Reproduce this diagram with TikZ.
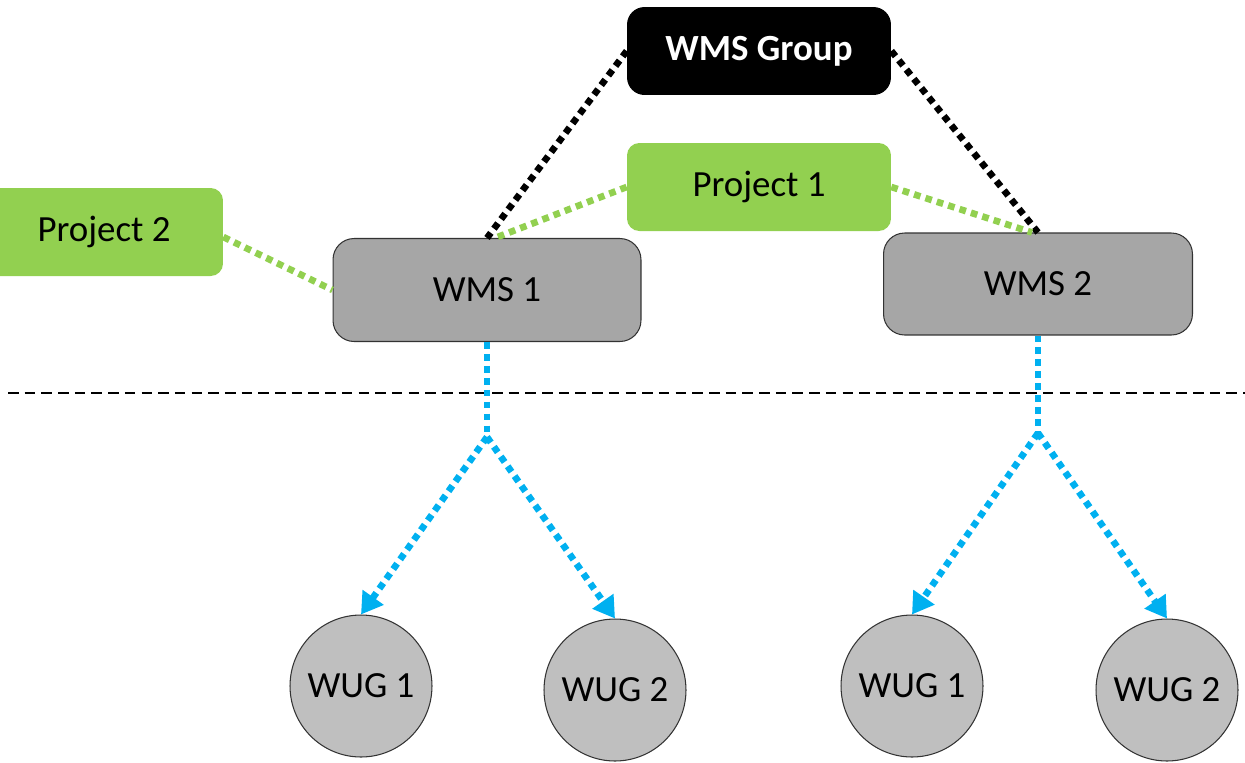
\documentclass[tikz,border=0pt]{standalone}
\usepackage{fontspec}
\setmainfont{Carlito}
\usepackage{tikz}
\usetikzlibrary{arrows.meta}
\definecolor{projgreen}{RGB}{146, 208, 80}
\definecolor{wmsgray}{RGB}{166, 166, 166}
\definecolor{wuggray}{RGB}{191, 191, 191}
\definecolor{linkblue}{RGB}{0, 176, 240}

\begin{document}
\begin{tikzpicture}[x=0.02cm, y=-0.02cm,
  wmsbox/.style={draw=black!80, fill=wmsgray, rounded corners=12pt, line width=0.6pt,
    inner sep=0pt, font=\fontsize{21}{24}\selectfont},
  projbox/.style={fill=projgreen, rounded corners=7pt, inner sep=0pt,
    minimum width=5.28cm, minimum height=1.76cm, font=\fontsize{21}{24}\selectfont},
  wugnode/.style={circle, draw=black!80, fill=wuggray, line width=0.6pt,
    minimum size=2.84cm, inner sep=0pt, font=\fontsize{21}{24}\selectfont},
  grouplink/.style={line width=3.8pt, dash pattern=on 3.8pt off 3pt},
  wuglink/.style={line width=3.8pt, dash pattern=on 3.8pt off 3pt, color=linkblue,
    -{Triangle[length=12pt, width=14pt]}}]
  \useasboundingbox (0, 0) rectangle (1245, 762);

  \node [projbox, minimum width=4.76cm] (proj2) at (104, 232) {Project 2};
  \node [projbox] (proj1) at (759, 187) {Project 1};
  \node [projbox, fill=black, text=white, font=\fontsize{21}{24}\selectfont\bfseries,
    rounded corners=10pt] (group) at (759, 51) {WMS Group};

  \node [wmsbox, minimum width=6.16cm, minimum height=2.06cm] (wms1) at (487, 290) {WMS 1};
  \node [wmsbox, minimum width=6.18cm, minimum height=2.04cm] (wms2) at (1038, 284) {WMS 2};

  \node [wugnode] (wug11) at (361, 686) {WUG 1};
  \node [wugnode] (wug12) at (615, 690) {WUG 2};
  \node [wugnode] (wug21) at (912, 686) {WUG 1};
  \node [wugnode] (wug22) at (1167, 690) {WUG 2};

  % boundary
  \draw [line width=1.5pt, dash pattern=on 6pt off 3.5pt] (8, 393) -- (1245, 393);

  \draw [grouplink, color=black] (group.west) -- (wms1.north);
  \draw [grouplink, color=black] (group.east) -- (wms2.north);
  \draw [grouplink, color=projgreen] (proj1.west) -- ([xshift=0.16cm]wms1.north);
  \draw [grouplink, color=projgreen] (proj1.east) -- ([xshift=-0.12cm]wms2.north);
  \draw [grouplink, color=projgreen] ([yshift=-0.1cm]proj2.east) -- (wms1.west);

  \coordinate (split1) at (487, 437);
  \coordinate (split2) at (1038, 433);
  \draw [grouplink, color=linkblue] (wms1.south) -- (split1);
  \draw [grouplink, color=linkblue] (wms2.south) -- (split2);
  \draw [wuglink] (split1) -- (wug11.north);
  \draw [wuglink] (split1) -- (wug12.north);
  \draw [wuglink] (split2) -- (wug21.north);
  \draw [wuglink] (split2) -- (wug22.north);
\end{tikzpicture}
\end{document}
